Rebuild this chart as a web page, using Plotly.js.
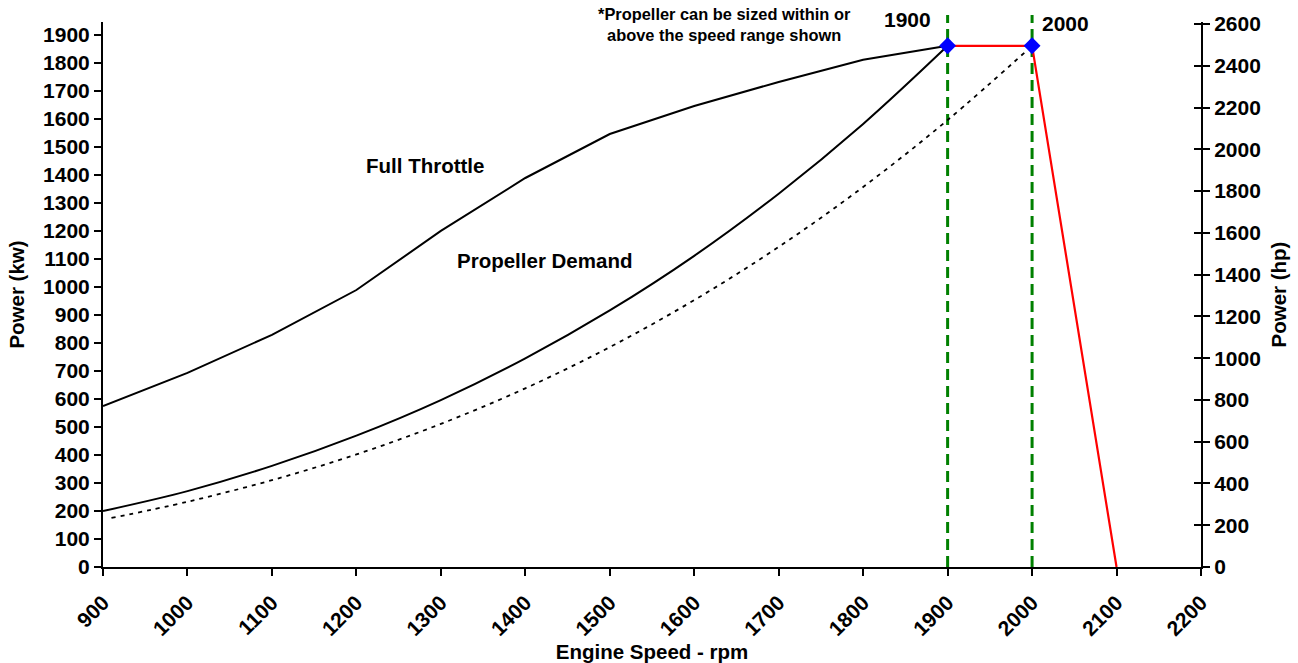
<!DOCTYPE html>
<html>
<head>
<meta charset="utf-8">
<script src="https://cdn.plot.ly/plotly-3.0.1.min.js"></script>
<style>html,body{margin:0;padding:0;background:#fff;}#chart{width:1298px;height:663px;}</style>
</head>
<body>
<div id="chart"></div>
<script>
// Engine speed (rpm)
const speedRpm = [900, 1000, 1100, 1200, 1300, 1400, 1500, 1600, 1700, 1800, 1900];
// Full throttle power (kW)
const fullThrottleKw = [575, 693, 829, 989, 1200, 1389, 1546, 1646, 1732, 1811, 1861];
// Propeller demand power (kW)
const propDemandKw = [200, 271, 361, 469, 596, 745, 916, 1111, 1333, 1582, 1861];
// Dotted propeller curve (sized at 2000 rpm)
const propAltRpm = [910, 1000, 1100, 1200, 1300, 1400, 1500, 1600, 1700, 1800, 1900, 2000];
const propAltKw = [175, 233, 310, 402, 511, 638, 785, 953, 1143, 1357, 1596, 1861];
// Governor / rated segment (red)
const governorRpm = [1900, 2000, 2100];
const governorKw = [1861, 1861, 0];
// Rated points (blue diamonds)
const ratedRpm = [1900, 2000];
const ratedKw = [1861, 1861];
// Speed range markers
const rangeRpm = [1900, 2000];
const rangeLabels = ['1900', '2000'];

const FONT = 'Liberation Sans, Arial, sans-serif';
const bold = (size) => ({family: FONT, size: size, color: '#000', weight: 'bold'});

const traces = [
  {x: speedRpm, y: fullThrottleKw, mode: 'lines', line: {color: '#000', width: 2}, hoverinfo: 'skip'},
  {x: speedRpm, y: propDemandKw, mode: 'lines', line: {color: '#000', width: 2, shape: 'spline', smoothing: 1}, hoverinfo: 'skip'},
  {x: propAltRpm, y: propAltKw, mode: 'lines', line: {color: '#000', width: 1.8, dash: '4px,5px', shape: 'spline', smoothing: 1}, hoverinfo: 'skip'},
  {x: governorRpm, y: governorKw, mode: 'lines', line: {color: '#FF0000', width: 2.2}, hoverinfo: 'skip'},
  {x: ratedRpm, y: ratedKw, mode: 'markers', marker: {symbol: 'diamond', size: 13, color: '#0000FF'}, hoverinfo: 'skip', cliponaxis: false},
  {x: [900], y: [0], yaxis: 'y2', mode: 'markers', marker: {opacity: 0}, hoverinfo: 'skip'},
  {x: [900], y: [0], yaxis: 'y3', mode: 'markers', marker: {opacity: 0}, hoverinfo: 'skip'}
];

const shapes = rangeRpm.map(r => ({
  type: 'line', xref: 'x', yref: 'paper', x0: r, x1: r, y0: 0, y1: 1.013,
  line: {color: '#008000', width: 3, dash: '11px,6px'}, layer: 'below'
}));

const annotations = [
  {x: 1281, y: 1432, xref: 'x', yref: 'y', text: 'Full Throttle', showarrow: false, font: bold(20.5)},
  {x: 1423, y: 1096, xref: 'x', yref: 'y', text: 'Propeller Demand', showarrow: false, font: bold(20.5)},
  {x: 1636, y: 0.995, xref: 'x', yref: 'paper', text: '*Propeller can be sized within or<br>above the speed range shown', showarrow: false, font: bold(16.4), yanchor: 'middle'},
  {x: 1852, y: 1.0055, xref: 'x', yref: 'paper', text: rangeLabels[0], showarrow: false, font: bold(21), yanchor: 'middle'},
  {x: 2040, y: 0.998, xref: 'x', yref: 'paper', text: rangeLabels[1], showarrow: false, font: bold(21), yanchor: 'middle'}
];

const layout = {
  width: 1298, height: 663,
  margin: {l: 103, r: 97, t: 22, b: 96},
  paper_bgcolor: '#fff', plot_bgcolor: '#fff',
  showlegend: false,
  font: {family: FONT, color: '#000'},
  xaxis: {
    range: [900, 2200], dtick: 100, tick0: 900, tickangle: -45,
    ticks: 'outside', ticklen: 7, tickwidth: 2, tickcolor: '#000',
    showline: true, linewidth: 2, linecolor: '#000', showgrid: false, zeroline: false,
    tickfont: bold(21), ticklabelstandoff: 6,
    title: {text: 'Engine Speed - rpm', font: bold(20.5), standoff: 4}
  },
  yaxis: {
    range: [0, 1946], dtick: 100, tick0: 0,
    ticks: 'outside', ticklen: 7, tickwidth: 2, tickcolor: '#000',
    showline: true, linewidth: 2, linecolor: '#000', showgrid: false, zeroline: false,
    tickfont: bold(21),
    title: {text: 'Power (kw)', font: bold(20.5), standoff: 13}
  },
  yaxis2: {
    overlaying: 'y', side: 'right', anchor: 'x',
    range: [0, 2610], dtick: 200, tick0: 0,
    ticks: 'outside', ticklen: 7, tickwidth: 2, tickcolor: '#000',
    showline: true, linewidth: 2, linecolor: '#000', showgrid: false, zeroline: false,
    tickfont: bold(21),
    title: {text: 'Power (hp)', font: bold(20.5), standoff: 12}
  },
  yaxis3: {
    overlaying: 'y', side: 'right', anchor: 'x',
    range: [0, 2610], dtick: 200, tick0: 0,
    ticks: 'inside', ticklen: 7, tickwidth: 2, tickcolor: '#000',
    showticklabels: false, showline: false, showgrid: false, zeroline: false
  },
  shapes: shapes,
  annotations: annotations
};

Plotly.newPlot('chart', traces, layout, {displayModeBar: false, staticPlot: true});
</script>
</body>
</html>
